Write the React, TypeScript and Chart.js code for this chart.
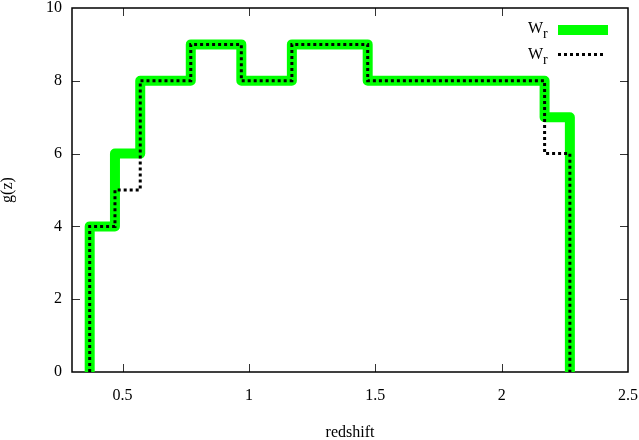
import React, { useEffect, useRef } from "react";
import { Chart, registerables } from "chart.js";

Chart.register(...registerables);

// Bin edges (redshift) and step values g(z)
const binEdges = [0.37, 0.47, 0.57, 0.77, 0.97, 1.17, 1.47, 2.17, 2.27];
const greenValues = [4, 6, 8, 9, 8, 9, 8, 7];
const blackValues = [4, 5, 8, 9, 8, 9, 8, 6];
const xTickValues = [0.5, 1, 1.5, 2, 2.5];
const yTickValues = [0, 2, 4, 6, 8, 10];
const seriesMain = ["W", "W"];
const seriesSub = ["r", "r"];
const xTitle = "redshift";
const yTitle = "g(z)";

const FONT_FAMILY = "'Liberation Serif', 'Times New Roman', serif";

function stepPoints(edges: number[], values: number[]) {
  const pts: { x: number; y: number }[] = [{ x: edges[0], y: 0 }];
  values.forEach((v, i) => pts.push({ x: edges[i], y: v }));
  pts.push({ x: edges[edges.length - 1], y: 0 });
  return pts;
}

const frameTicksPlugin = {
  id: "frameTicks",
  beforeDatasetsDraw(chart: any) {
    const { ctx, chartArea, scales } = chart;
    const { left, right, top, bottom } = chartArea;
    const tl = 8;
    ctx.save();
    ctx.strokeStyle = "#333";
    ctx.lineWidth = 1;
    for (const v of xTickValues) {
      const px = Math.round(scales.x.getPixelForValue(v)) + 0.5;
      if (px < left + 1 || px > right - 1) continue;
      ctx.beginPath();
      ctx.moveTo(px, bottom);
      ctx.lineTo(px, bottom - tl);
      ctx.moveTo(px, top);
      ctx.lineTo(px, top + tl);
      ctx.stroke();
    }
    for (const v of yTickValues) {
      const py = Math.round(scales.y.getPixelForValue(v)) + 0.5;
      if (py < top + 1 || py > bottom - 1) continue;
      ctx.beginPath();
      ctx.moveTo(left, py);
      ctx.lineTo(left + tl, py);
      ctx.moveTo(right, py);
      ctx.lineTo(right - tl, py);
      ctx.stroke();
    }
    ctx.strokeStyle = "#000";
    ctx.lineWidth = 1.5;
    ctx.strokeRect(left, top, right - left, bottom - top);
    ctx.restore();
  },
};

const customLegendPlugin = {
  id: "customLegend",
  afterDraw(chart: any) {
    const { ctx } = chart;
    const rows = [
      { baseline: 33, lineY: 30 },
      { baseline: 59, lineY: 54.5 },
    ];
    ctx.save();
    chart.data.datasets.forEach((ds: any, i: number) => {
      const r = rows[i];
      ctx.fillStyle = "#000";
      ctx.textBaseline = "alphabetic";
      ctx.textAlign = "left";
      ctx.font = `16px ${FONT_FAMILY}`;
      ctx.fillText(seriesMain[i], 528, r.baseline);
      const w = ctx.measureText(seriesMain[i]).width;
      ctx.font = `14px ${FONT_FAMILY}`;
      ctx.fillText(seriesSub[i], 528 + w, r.baseline + 5);
      ctx.beginPath();
      ctx.strokeStyle = ds.borderColor;
      ctx.lineWidth = ds.borderWidth;
      ctx.setLineDash(ds.borderDash || []);
      ctx.lineCap = "butt";
      ctx.moveTo(558, r.lineY);
      ctx.lineTo(i === 0 ? 608 : 606, r.lineY);
      ctx.stroke();
    });
    ctx.restore();
  },
};

export default function App() {
  const canvasRef = useRef<HTMLCanvasElement | null>(null);

  useEffect(() => {
    if (!canvasRef.current) return;
    const font = { family: FONT_FAMILY, size: 16 };
    const chart = new Chart(canvasRef.current, {
      type: "line",
      data: {
        datasets: [
          {
            label: "W_r",
            data: stepPoints(binEdges, greenValues),
            borderColor: "#00ff00",
            borderWidth: 10,
            stepped: "before",
            pointRadius: 0,
            fill: false,
            borderJoinStyle: "round",
            borderCapStyle: "butt",
            clip: 0,
            order: 1,
          },
          {
            label: "W_r",
            data: stepPoints(binEdges, blackValues),
            borderColor: "#000000",
            borderWidth: 3,
            borderDash: [3, 3],
            stepped: "before",
            pointRadius: 0,
            fill: false,
            borderCapStyle: "butt",
            clip: 0,
            order: 0,
          },
        ] as any,
      },
      options: {
        animation: false,
        responsive: false,
        maintainAspectRatio: false,
        layout: { padding: { left: 0, right: 11, top: 8, bottom: 0 } },
        plugins: {
          legend: { display: false },
          tooltip: { enabled: false },
        },
        scales: {
          x: {
            type: "linear",
            min: 0.3,
            max: 2.5,
            afterBuildTicks: (s: any) => {
              s.ticks = xTickValues.map((v) => ({ value: v }));
            },
            ticks: {
              callback: (v: any) => String(v),
              font,
              color: "#000",
              padding: 14,
              maxRotation: 0,
              autoSkip: false,
            },
            grid: { display: false, drawTicks: false },
            border: { display: false },
            title: {
              display: true,
              text: xTitle,
              font: { ...font, lineHeight: 1 },
              color: "#000",
              padding: { top: 0, bottom: -1 },
            },
            afterFit: (s: any) => {
              s.height = 68;
              s.paddingLeft = 0;
              s.paddingRight = 0;
            },
          },
          y: {
            type: "linear",
            min: 0,
            max: 10,
            afterBuildTicks: (s: any) => {
              s.ticks = yTickValues.map((v) => ({ value: v }));
            },
            ticks: {
              font,
              color: "#000",
              padding: 10,
              autoSkip: false,
            },
            grid: { display: false, drawTicks: false },
            border: { display: false },
            title: {
              display: true,
              text: yTitle,
              font: { ...font, lineHeight: 1 },
              color: "#000",
              padding: 0,
            },
            afterFit: (s: any) => {
              s.width = 72;
              s.paddingTop = 0;
              s.paddingBottom = 0;
            },
          },
        },
      } as any,
      plugins: [frameTicksPlugin, customLegendPlugin],
    });
    return () => chart.destroy();
  }, []);

  return (
    <div style={{ position: "absolute", left: 0, top: 0, width: 639, height: 440, background: "#fff" }}>
      <canvas ref={canvasRef} width={639} height={440} style={{ display: "block" }} />
    </div>
  );
}
